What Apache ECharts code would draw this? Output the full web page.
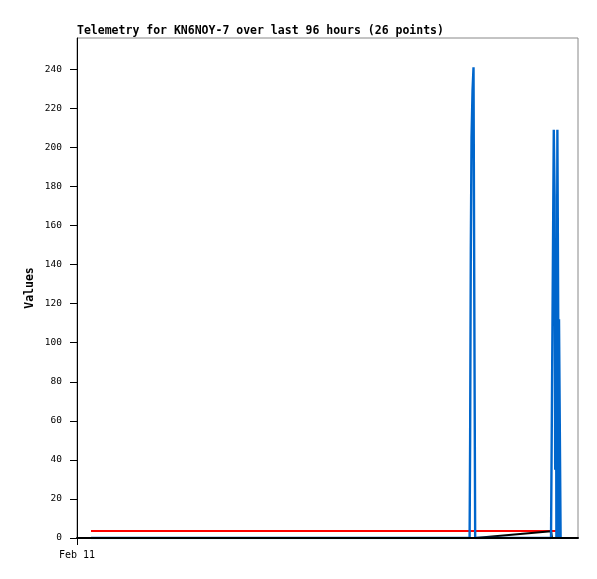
<!DOCTYPE html>
<html>
<head>
<meta charset="utf-8">
<script src="https://cdn.jsdelivr.net/npm/echarts@6/dist/echarts.min.js"></script>
<style>
html,body{margin:0;padding:0;background:#fff;}
#chart{width:597px;height:579px;}
</style>
</head>
<body>
<div id="chart"></div>
<script>
// hours since Feb 11 00:00
const times = [2.68, 73.49, 73.68, 73.87, 75.23, 75.33, 75.46, 75.60, 75.79, 75.98, 76.13, 76.30,
  90.83, 91.02, 91.21, 91.36, 91.52, 91.63, 91.79, 91.86, 92.05, 92.21, 92.24, 92.36, 92.55, 92.67];
const blueValues = [0, 0, 0, 0, 0, 50, 148, 205, 229, 241, 121, 0,
  0, 0, 0, 209, 174, 35, 104, 0, 209, 112, 0, 112, 112, 0];
const redValues = [3.6, 3.6, 2.6, 3.6, 3.6, 3.6, 3.6, 3.6, 3.6, 3.6, 3.6, 3.6,
  3.6, 3.6, 3.6, 3.6, 3.6, 3.6, 3.6, 3.6, 3.6, 3.6, 3.6, 3.6, 3.6, 3.6];
const blackValues = [0, 0, 0, 0, 0, 0, 0, 0, 0, 0, 0, 0,
  3.5, 0, 0, 0, 0, 0, 0, 0, 0, 0, 0, 0, 0, 0];
const yTicks = [0, 20, 40, 60, 80, 100, 120, 140, 160, 180, 200, 220, 240];
const xTickValues = [0];
const xTickLabels = ['Feb 11'];

const pair = vals => times.map((t, i) => [t, vals[i]]);
const mono = 'DejaVu Sans Mono';

const chart = echarts.init(document.getElementById('chart'), null, {renderer: 'canvas'});
chart.setOption({
  animation: false,
  backgroundColor: '#ffffff',
  title: {
    text: 'Telemetry for KN6NOY-7 over last 96 hours (26 points)',
    left: 77, top: 25, padding: 0,
    textStyle: {fontFamily: mono, fontWeight: 'bold', fontSize: 11.5, color: '#000'}
  },
  grid: {left: 77, right: 19, top: 38, bottom: 41, show: true, borderColor: '#888', borderWidth: 1, backgroundColor: '#fff'},
  xAxis: {
    type: 'value', min: 0, max: 96, z: 5,
    axisLine: {lineStyle: {color: '#000', width: 2}},
    axisTick: {length: 7, customValues: xTickValues, lineStyle: {color: '#000'}},
    axisLabel: {customValues: xTickValues, margin: 12, fontFamily: mono, fontSize: 10, color: '#000',
      formatter: v => xTickLabels[xTickValues.indexOf(v)] || ''},
    splitLine: {show: false}
  },
  yAxis: {
    type: 'value', min: 0, max: 256,
    name: 'Values', nameLocation: 'middle', nameGap: 41, nameMoveOverlap: false,
    nameTextStyle: {fontFamily: mono, fontWeight: 'bold', fontSize: 11.5, color: '#000'},
    axisLine: {show: true, lineStyle: {color: '#000', width: 1}},
    axisTick: {show: true, length: 7, customValues: yTicks, lineStyle: {color: '#000'}},
    axisLabel: {customValues: yTicks, margin: 15, fontFamily: mono, fontSize: 9.5, color: '#000'},
    splitLine: {show: false}
  },
  series: [
    {type: 'line', data: pair(redValues), showSymbol: false, lineStyle: {color: '#ff0000', width: 2}, itemStyle: {color: '#ff0000'}},
    {type: 'line', data: pair(blackValues), showSymbol: false, lineStyle: {color: '#000000', width: 2}, itemStyle: {color: '#000'}},
    {type: 'line', data: pair(blueValues), showSymbol: false, lineStyle: {color: '#0066cc', width: 2.4}, itemStyle: {color: '#0066cc'}}
  ]
});
</script>
</body>
</html>
